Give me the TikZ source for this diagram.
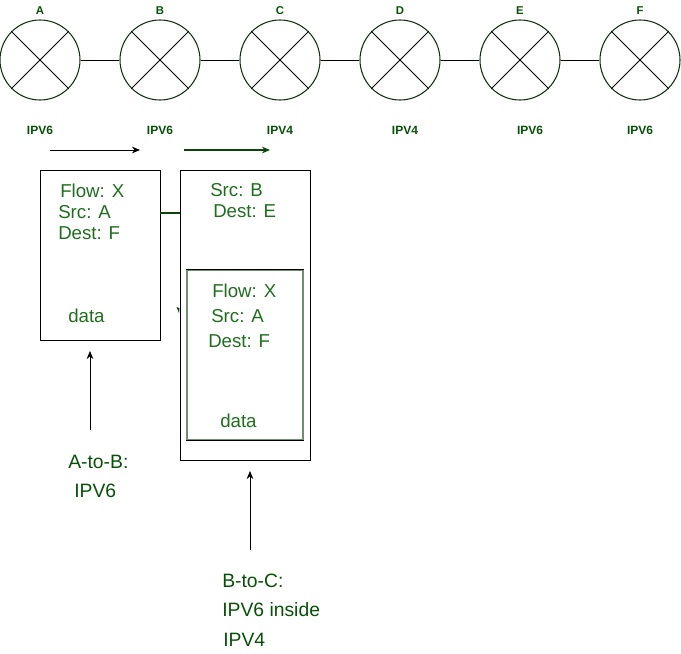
\documentclass[tikz,border=0pt]{standalone}
\usepackage{fontspec}
\setmainfont{Liberation Sans}
\usepackage{xcolor}
\usetikzlibrary{arrows.meta, positioning, calc}

\definecolor{pktgreen}{RGB}{30,110,30}
\definecolor{lblgreen}{RGB}{8,80,8}
\definecolor{ringgreen}{RGB}{18,50,18}
\definecolor{linkgreen}{RGB}{10,70,10}
\definecolor{innergray}{RGB}{112,142,112}

\tikzset{
  router/.style={circle, draw=ringgreen, line width=0.8pt, minimum size=60pt, inner sep=0pt},
  rname/.style={font=\bfseries\fontsize{8.5}{10}\selectfont, text=lblgreen},
  ipv/.style={font=\bfseries\fontsize{9}{11}\selectfont, text=lblgreen},
  pkt/.style={draw=black, line width=0.6pt, inner sep=0pt},
  field/.style={anchor=west, inner sep=0pt, font=\fontsize{14}{16}\selectfont, text=pktgreen},
  note/.style={anchor=west, inner sep=0pt, font=\fontsize{14.5}{17}\selectfont, text=lblgreen},
}

\begin{document}
\begin{tikzpicture}[x=0.75pt, y=-0.75pt]
\useasboundingbox (0,0) rectangle (681,653);

% Routers A to F
\foreach \r/\x/\v/\vx in {A/40/IPV6/40, B/160/IPV6/160, C/280/IPV4/280, D/400/IPV4/405, E/520/IPV6/530, F/640/IPV6/640} {
    \node[router] (r\r) at (\x,60) {};
    \draw[line width=0.6pt] (r\r.north west) -- (r\r.south east);
    \draw[line width=0.6pt] (r\r.north east) -- (r\r.south west);
    \node[rname] (n\r) at (\x,11) {\r};
    \node[ipv] (v\r) at (\vx,130) {\v};
}
\foreach \a/\b in {A/B, B/C, C/D, D/E, E/F}
    \draw[line width=0.6pt] (r\a) -- (r\b);

% Direction of the flow
\coordinate (f1s) at (50,150);
\coordinate (f1e) at (140,150);
\coordinate (f2s) at (184,150);
\coordinate (f2e) at (270,150);
\draw[-{Stealth[length=6pt, width=5pt]}, line width=0.6pt] (f1s) -- (f1e);
\draw[-{Stealth[length=6pt, width=5pt]}, line width=1pt, linkgreen] (f2s) -- (f2e);

% Packet from A to B
\node[pkt, minimum width=90pt, minimum height=127.5pt] (pkt1) at (100,255) {};
\node[field] (p1flow) at (60,191) {Flow: X};
\node[field] (p1src) at (58,212) {Src: A};
\node[field] (p1dst) at (58,233) {Dest: F};
\node[field] (p1data) at (68,316) {data};

% Packet from B to C, IPV6 inside IPV4
\node[pkt, minimum width=97.5pt, minimum height=217.5pt] (pkt2) at (245,315) {};
\node[field] (p2src) at (210,190) {Src: B};
\node[field] (p2dst) at (213,211) {Dest: E};
\node[pkt, draw=innergray, line width=0.9pt, minimum width=87pt, minimum height=127.5pt] (inner) at (245,355) {};
\draw[line width=0.6pt] (inner.north west) -- (inner.north east);
\draw[line width=0.6pt] (inner.south west) -- (inner.south east);
\node[field] (inflow) at (212,291) {Flow: X};
\node[field] (insrc) at (211,316) {Src: A};
\node[field] (indst) at (208,341) {Dest: F};
\node[field] (indata) at (220,421) {data};

\draw[linkgreen, line width=1.4pt] (pkt1.east |- 0,213) -- (pkt2.west |- 0,213);
\fill[linkgreen] (176.5,307) -- (179.5,308) -- (179,313) -- cycle;

% Labels below
\coordinate (a1s) at (90,430);
\coordinate (a1e) at (90,351);
\draw[-{Stealth[length=6pt, width=5pt]}, line width=0.6pt] (a1s) -- (a1e);
\node[note] (ab1) at (68,462) {A-to-B:};
\node[note] (ab2) at (74,491) {IPV6};

\coordinate (a2s) at (250,550);
\coordinate (a2e) at (250,471);
\draw[-{Stealth[length=6pt, width=5pt]}, line width=0.6pt] (a2s) -- (a2e);
\node[note] (bc1) at (222,581) {B-to-C:};
\node[note] (bc2) at (222,610) {IPV6 inside};
\node[note] (bc3) at (223,640) {IPV4};
\end{tikzpicture}
\end{document}
